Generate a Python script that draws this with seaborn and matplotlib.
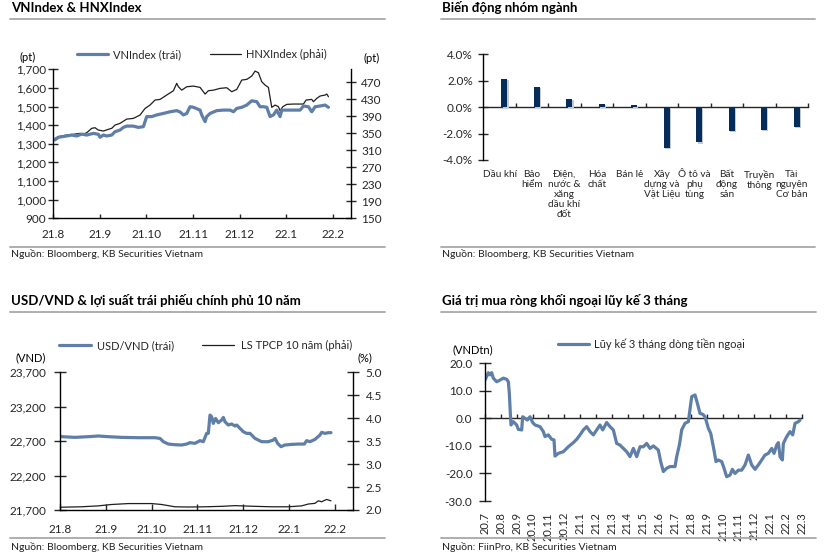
import numpy as np
import pandas as pd
import matplotlib
matplotlib.use("Agg")
import matplotlib.pyplot as plt
import seaborn as sns
from matplotlib.lines import Line2D
from matplotlib import patheffects as pe

# ---------------- data ----------------
# Chart 1: VNIndex & HNXIndex (x in months since 21.8)
idx_month_labels = ["21.8", "21.9", "21.10", "21.11", "21.12", "22.1", "22.2"]
vn_x = [0.036, 0.108, 0.287, 0.394, 0.502, 0.609, 0.717, 0.860, 0.967, 1.003, 1.074, 1.146,
        1.253, 1.325, 1.432, 1.504, 1.575, 1.719, 1.826, 1.933, 1.969, 2.005, 2.112, 2.220,
        2.363, 2.506, 2.649, 2.721, 2.792, 2.864, 2.935, 3.007, 3.150, 3.186, 3.257, 3.293,
        3.365, 3.508, 3.651, 3.794, 3.866, 3.938, 4.045, 4.152, 4.260, 4.367, 4.438, 4.510,
        4.582, 4.653, 4.725, 4.796, 4.868, 4.904, 5.011, 5.154, 5.297, 5.369, 5.476, 5.548,
        5.620, 5.727, 5.834, 5.906]
vn_val = [1321, 1335, 1342, 1347, 1342, 1352, 1347, 1356, 1351, 1335, 1347, 1342,
          1347, 1365, 1374, 1388, 1395, 1395, 1388, 1392, 1419, 1446, 1446, 1455,
          1463, 1472, 1478, 1471, 1455, 1463, 1499, 1496, 1481, 1455, 1419, 1446,
          1463, 1478, 1481, 1481, 1472, 1490, 1496, 1508, 1531, 1526, 1499, 1499,
          1496, 1446, 1455, 1481, 1446, 1481, 1481, 1481, 1481, 1503, 1499, 1472,
          1499, 1503, 1508, 1496]
hnx_x = [0.036, 0.108, 0.287, 0.430, 0.573, 0.645, 0.717, 0.824, 0.895, 0.967, 1.074, 1.182,
         1.253, 1.325, 1.432, 1.575, 1.719, 1.862, 1.969, 2.076, 2.184, 2.291, 2.434, 2.578,
         2.649, 2.685, 2.756, 2.864, 3.007, 3.150, 3.258, 3.329, 3.436, 3.580, 3.723, 3.830,
         3.938, 4.045, 4.152, 4.260, 4.331, 4.403, 4.474, 4.546, 4.617, 4.689, 4.761, 4.832,
         4.868, 4.925, 5.011, 5.154, 5.297, 5.369, 5.426, 5.548, 5.584, 5.655, 5.727, 5.834,
         5.870, 5.906]
hnx_val = [337.8, 341.7, 345.6, 347.2, 349.5, 348.0, 351.0, 361.3, 362.8, 357.3, 355.0, 359.0,
           361.3, 369.0, 373.0, 383.0, 384.7, 392.6, 408.0, 416.0, 427.8, 429.3, 439.5, 449.7,
           467.0, 459.0, 451.0, 459.0, 460.6, 457.5, 441.9, 449.7, 451.0, 455.2, 456.7, 447.3,
           452.8, 474.7, 476.3, 484.1, 495.8, 491.9, 470.8, 463.0, 457.5, 410.6, 416.0, 412.1,
           402.7, 412.1, 417.6, 418.4, 418.4, 418.4, 427.8, 429.3, 423.9, 431.7, 437.2, 439.5,
           441.9, 435.6]

# Chart 2: sector performance
sectors = ["Dầu khí", "Bảo\nhiểm", "Điện,\nnước &\nxăng\ndầu khí\nđốt", "Hóa\nchất", "Bán lẻ",
           "Xây\ndựng và\nVật Liệu", "Ô tô và\nphụ\ntùng", "Bất\nđộng\nsản", "Truyền\nthông",
           "Tài\nnguyên\nCơ bản"]
sector_chg = [2.15, 1.53, 0.63, 0.23, 0.13, -3.07, -2.67, -1.81, -1.74, -1.48]

# Chart 3: USD/VND & 10Y government bond yield
fx_month_labels = ["21.8", "21.9", "21.10", "21.11", "21.12", "22.1", "22.2"]
usd_x = [0.0, 0.036, 0.327, 0.618, 0.836, 1.055, 1.345, 1.709, 2.073, 2.182, 2.255, 2.364,
         2.509, 2.655, 2.764, 2.836, 2.945, 3.055, 3.127, 3.200, 3.236, 3.273, 3.309, 3.345,
         3.396, 3.455, 3.527, 3.564, 3.600, 3.673, 3.745, 3.818, 3.855, 3.927, 4.000, 4.073,
         4.145, 4.255, 4.400, 4.545, 4.655, 4.691, 4.749, 4.822, 4.909, 5.055, 5.200, 5.331,
         5.382, 5.455, 5.564, 5.673, 5.709, 5.782, 5.855, 5.913]
usd_val = [22775, 22765, 22755, 22765, 22775, 22765, 22755, 22750, 22750, 22740, 22692, 22658,
           22648, 22644, 22658, 22678, 22668, 22707, 22692, 22813, 22813, 23079, 23055, 22958,
           23030, 22968, 23006, 23045, 22982, 22934, 22949, 22920, 22934, 22886, 22837, 22813,
           22813, 22740, 22692, 22692, 22716, 22740, 22668, 22620, 22644, 22653, 22658, 22658,
           22707, 22692, 22726, 22789, 22828, 22813, 22823, 22823]
yld_x = [0.0, 0.473, 0.836, 1.127, 1.491, 1.999, 2.218, 2.509, 2.800, 3.164, 3.527, 3.818,
         4.255, 4.618, 4.982, 5.273, 5.418, 5.564, 5.636, 5.709, 5.818, 5.913]
yld_val = [2.06, 2.07, 2.09, 2.12, 2.14, 2.14, 2.12, 2.07, 2.065, 2.07, 2.08, 2.095,
           2.08, 2.07, 2.07, 2.09, 2.13, 2.145, 2.20, 2.18, 2.23, 2.20]

# Chart 4: foreign net buying, 3-month cumulative (VND tn)
flow_month_labels = ["20.7", "20.8", "20.9", "20.10", "20.11", "20.12", "21.1", "21.2", "21.3",
                     "21.4", "21.5", "21.6", "21.7", "21.8", "21.9", "21.10", "21.11", "21.12",
                     "22.1", "22.2", "22.3"]
flow_x = [0.0, 0.105, 0.211, 0.316, 0.421, 0.526, 0.737, 0.947, 1.158, 1.368, 1.474, 1.537,
          1.600, 1.642, 1.789, 2.0, 2.105, 2.316, 2.379, 2.526, 2.674, 2.842, 3.011, 3.158,
          3.474, 3.684, 3.789, 4.0, 4.211, 4.358, 4.421, 4.632, 4.947, 5.263, 5.579, 5.789,
          6.0, 6.211, 6.421, 6.632, 6.842, 7.053, 7.263, 7.432, 7.684, 7.895, 8.105, 8.316,
          8.526, 8.737, 8.947, 9.158, 9.368, 9.579, 9.789, 10.0, 10.211, 10.421, 10.632,
          10.947, 11.095, 11.263, 11.474, 11.684, 12.0, 12.105, 12.274, 12.421, 12.632,
          12.842, 13.053, 13.263, 13.411, 13.579, 13.747, 13.895, 14.105, 14.253, 14.421,
          14.589, 14.737, 14.947, 15.095, 15.263, 15.474, 15.621, 15.789, 16.0, 16.211,
          16.421, 16.632, 16.842, 17.053, 17.263, 17.474, 17.684, 17.895, 18.105, 18.253,
          18.421, 18.526, 18.632, 18.779, 18.842, 19.053, 19.263, 19.432, 19.579, 19.789,
          19.895]
flow_val = [13.9, 15.2, 16.6, 15.8, 16.6, 14.6, 13.3, 13.9, 14.6, 14.2, 13.3, 9.1,
            1.8, -2.4, -1.2, -2.4, -4.0, -4.2, 0.6, 0.0, -0.6, 0.6, -1.5, -2.4,
            -3.0, -4.8, -6.6, -6.0, -7.6, -7.8, -13.7, -12.7, -12.1, -10.3, -8.8, -7.6,
            -6.0, -4.2, -3.0, -4.8, -6.0, -4.2, -2.4, -4.2, -1.5, -3.0, -4.2, -9.1,
            -9.7, -10.9, -12.1, -13.9, -10.9, -13.9, -10.3, -10.3, -9.1, -10.9, -10.0,
            -11.5, -15.7, -19.3, -18.1, -17.5, -17.5, -13.9, -9.7, -4.2, -1.8,
            -1.2, 7.9, 8.5, 5.5, 1.8, 1.5, 0.6, -3.6, -5.4, -10.3,
            -15.7, -15.1, -15.7, -18.1, -21.2, -20.6, -18.5, -20.0, -18.8, -18.8,
            -16.9, -13.3, -16.9, -18.5, -16.9, -15.1, -13.3, -12.7, -10.9, -12.7,
            -9.7, -8.8, -13.9, -15.1, -9.1, -6.6, -4.8, -6.0, -1.8, -1.2,
            -0.6]

# ---------------- style ----------------
W, H = 834, 555
sns.set_theme(style="white")
plt.rcParams["font.family"] = ["Lato", "DejaVu Sans"]
plt.rcParams["axes.linewidth"] = 1.0
FS = 8          # legend / unit labels
TK = 8.5        # tick labels
CAT = 7.2       # sector category labels
SFS = 7.5       # source notes
TFS = 9.5       # titles
BLUE = "#5F7FA9"
NAVY = "#062C5A"
DARK = "#1E1E1E"
GRAY = "#A8A8A8"

fig = plt.figure(figsize=(W / 100, H / 100), dpi=100)


def rect(l, t, r, b):
    return [l / W, 1 - b / H, (r - l) / W, (b - t) / H]


def fxp(x):
    return x / W


def fyp(y):
    return 1 - y / H


def hline(x0, x1, y):
    fig.add_artist(Line2D([fxp(x0), fxp(x1)], [fyp(y), fyp(y)], color=GRAY, lw=1.3,
                          transform=fig.transFigure))


def ftext(x, y, s, **kw):
    kw.setdefault("fontsize", FS)
    kw.setdefault("va", "center")
    kw.setdefault("color", "black")
    fig.text(fxp(x), fyp(y), s, **kw)


def style_spines(ax, left=True, right=False, bottom=True):
    for side, vis in (("left", left), ("right", right), ("bottom", bottom), ("top", False)):
        ax.spines[side].set_visible(vis)
        ax.spines[side].set_color("black")
        ax.spines[side].set_linewidth(1.0)


# Titles, rules, sources
for (x0, x1, title, src, ty, ry, sy, sry) in [
    (10, 385, "VNIndex & HNXIndex", "Nguồn: Bloomberg, KB Securities Vietnam", 7.5, 19.3, 253.7, 246.7),
    (441, 815, "Biến động nhóm ngành", "Nguồn: Bloomberg, KB Securities Vietnam", 7.5, 19.3, 253.7, 246.7),
    (10, 385, "USD/VND & lợi suất trái phiếu chính phủ 10 năm", "Nguồn: Bloomberg, KB Securities Vietnam", 300.7, 312.3, 546.7, 538.3),
    (441, 816, "Giá trị mua ròng khối ngoại lũy kế 3 tháng", "Nguồn: FiinPro, KB Securities Vietnam", 300.7, 312.3, 546.7, 538.3),
]:
    ftext(x0 + 1, ty, title, fontsize=TFS, fontweight="bold")
    hline(x0, x1, ry)
    hline(x0, x1, sry)
    ftext(x0 + 1, sy, src, fontsize=SFS, color="#222222")

# ---------------- Chart 1 ----------------
ax1 = fig.add_axes(rect(53.3, 69.3, 351, 218.3))
sns.lineplot(x=vn_x, y=vn_val, ax=ax1, color=BLUE, linewidth=2.3)
ax1.set_xlim(0, 6.39)
ax1.set_ylim(900, 1700)
ax1.set_yticks(np.arange(900, 1701, 100))
ax1.set_yticklabels([f"{v:,}" for v in range(900, 1701, 100)])
ax1.set_xticks(range(len(idx_month_labels)))
ax1.set_xticklabels(idx_month_labels)
style_spines(ax1, left=True, right=False, bottom=True)
ax1.tick_params(axis="y", direction="inout", length=7, width=1, pad=1.5, labelsize=TK, left=True)
ax1.tick_params(axis="x", direction="in", length=3, width=1, pad=8, labelsize=TK, bottom=True)
ax1b = ax1.twinx()
sns.lineplot(x=hnx_x, y=hnx_val, ax=ax1b, color=DARK, linewidth=0.9)
ax1b.set_ylim(150, 500)
ax1b.set_yticks(np.arange(150, 471, 40))
style_spines(ax1b, left=False, right=True, bottom=False)
ax1b.tick_params(axis="y", direction="inout", length=7, width=1, pad=4, labelsize=TK, right=True)
for a in (ax1, ax1b):
    a.set_xlabel("")
    a.set_ylabel("")
    a.grid(False)
ax1.set_zorder(ax1b.get_zorder() + 1)
ax1.patch.set_visible(False)
ftext(20, 57, "(pt)")
ftext(363, 58, "(pt)")
fig.legend([Line2D([], [], color=BLUE, lw=2.3), Line2D([], [], color=DARK, lw=0.9)],
           ["VNIndex (trái)", "HNXIndex (phải)"], loc="center left",
           bbox_to_anchor=(fxp(77), fyp(54.5)), ncol=2, frameon=False, fontsize=FS,
           handlelength=2.8, handletextpad=0.45, columnspacing=2.6, borderpad=0, borderaxespad=0)

# ---------------- Chart 2 ----------------
ax2 = fig.add_axes(rect(483.3, 54.3, 808, 160))
bar_pos = np.arange(len(sectors)) + 0.15
sns.barplot(x=bar_pos, y=sector_chg, ax=ax2, native_scale=True, color=NAVY, width=0.18,
            saturation=1, linewidth=0)
for p in ax2.patches:
    p.set_path_effects([pe.SimplePatchShadow(offset=(0.9, -0.9), shadow_rgbFace="#c4cad2", alpha=1),
                        pe.Normal()])
ax2.set_xlim(-0.5, len(sectors) - 0.5)
ax2.set_ylim(-4, 4)
ax2.set_yticks([-4, -2, 0, 2, 4])
ax2.set_yticklabels([f"{v:.1f}%" for v in [-4, -2, 0, 2, 4]])
ax2.set_xticks(range(len(sectors)))
ax2.set_xticklabels(sectors, linespacing=1.15)
style_spines(ax2, left=True, right=False, bottom=False)
ax2.tick_params(axis="y", direction="inout", length=7, width=1, pad=4, labelsize=TK, left=True)
ax2.tick_params(axis="x", length=0, pad=7, labelsize=CAT)
ax2.set_xlabel("")
ax2.set_ylabel("")
ax2.grid(False)
sec2 = ax2.secondary_xaxis(0.5)
sec2.set_xticks(np.arange(0.5, len(sectors), 1.0))
sec2.set_xticklabels([])
sec2.tick_params(direction="out", length=3, width=1)
sec2.spines["top"].set_linewidth(1.0)
sec2.spines["bottom"].set_linewidth(1.0)

# ---------------- Chart 3 ----------------
ax3 = fig.add_axes(rect(60, 372.3, 353.3, 510))
sns.lineplot(x=usd_x, y=usd_val, ax=ax3, color=BLUE, linewidth=2.3)
ax3.set_xlim(0, 6.4)
ax3.set_ylim(21700, 23700)
ax3.set_yticks(np.arange(21700, 23701, 500))
ax3.set_yticklabels([f"{v:,}" for v in range(21700, 23701, 500)])
ax3.set_xticks(range(len(fx_month_labels)))
ax3.set_xticklabels(fx_month_labels)
style_spines(ax3, left=True, right=False, bottom=True)
ax3.tick_params(axis="y", direction="inout", length=8, width=1, pad=6, labelsize=TK, left=True)
ax3.tick_params(axis="x", direction="in", length=4, width=1, pad=10, labelsize=TK, bottom=True)
ax3b = ax3.twinx()
sns.lineplot(x=yld_x, y=yld_val, ax=ax3b, color=DARK, linewidth=0.9)
ax3b.set_ylim(2.0, 5.0)
ax3b.set_yticks(np.arange(2.0, 5.01, 0.5))
ax3b.set_yticklabels([f"{v:.1f}" for v in np.arange(2.0, 5.01, 0.5)])
style_spines(ax3b, left=False, right=True, bottom=False)
ax3b.tick_params(axis="y", direction="inout", length=8, width=1, pad=5, labelsize=TK, right=True)
for a in (ax3, ax3b):
    a.set_xlabel("")
    a.set_ylabel("")
    a.grid(False)
ax3.set_zorder(ax3b.get_zorder() + 1)
ax3.patch.set_visible(False)
ftext(15, 358, "(VND)")
ftext(358, 358, "(%)")
fig.legend([Line2D([], [], color=BLUE, lw=2.3), Line2D([], [], color=DARK, lw=0.9)],
           ["USD/VND (trái)", "LS TPCP 10 năm (phải)"], loc="center left",
           bbox_to_anchor=(fxp(59), fyp(345.7)), ncol=2, frameon=False, fontsize=FS,
           handlelength=2.9, handletextpad=0.55, columnspacing=2.5, borderpad=0, borderaxespad=0)

# ---------------- Chart 4 ----------------
ax4 = fig.add_axes(rect(485, 363.3, 801.7, 501))
sns.lineplot(x=flow_x, y=flow_val, ax=ax4, color=BLUE, linewidth=2.3)
ax4.set_xlim(0, len(flow_month_labels) - 1)
ax4.set_ylim(-30, 20)
ax4.set_yticks([-30, -20, -10, 0, 10, 20])
ax4.set_yticklabels([f"{v:.1f}" for v in [-30, -20, -10, 0, 10, 20]])
ax4.set_xticks(range(len(flow_month_labels)))
ax4.set_xticklabels(flow_month_labels, rotation=90, va="top", ha="center")
style_spines(ax4, left=True, right=False, bottom=False)
ax4.tick_params(axis="y", direction="inout", length=8, width=1, pad=5, labelsize=TK, left=True)
ax4.tick_params(axis="x", length=0, pad=8, labelsize=FS)
ax4.set_xlabel("")
ax4.set_ylabel("")
ax4.grid(False)
sec4 = ax4.secondary_xaxis(0.6)
sec4.set_xticks(range(len(flow_month_labels)))
sec4.set_xticklabels([])
sec4.tick_params(direction="out", length=3, width=1)
ftext(453, 350, "(VNDtn)")
fig.legend([Line2D([], [], color=BLUE, lw=2.3)], ["Lũy kế 3 tháng dòng tiền ngoại"],
           loc="center left", bbox_to_anchor=(fxp(558), fyp(344.3)), frameon=False, fontsize=FS,
           handlelength=2.8, handletextpad=0.4, borderpad=0, borderaxespad=0)

fig.savefig("out.png", dpi=100)
